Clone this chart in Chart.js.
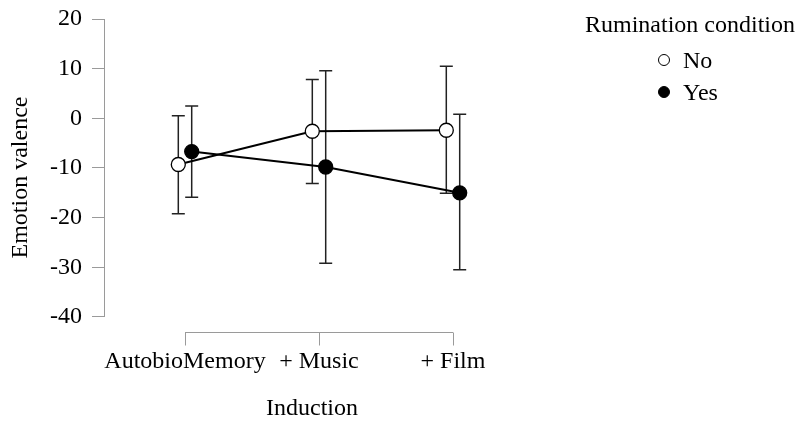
<!DOCTYPE html>
<html>
<head>
<meta charset="utf-8">
<script src="https://cdn.jsdelivr.net/npm/chart.js@4.4.1/dist/chart.umd.min.js"></script>
<style>
html, body { margin: 0; padding: 0; background: #fff; }
#wrap { width: 801px; height: 421px; position: relative; }
</style>
</head>
<body>
<div id="wrap"><canvas id="c"></canvas></div>
<script>
// ---- data ----
const categories = ['AutobioMemory', '+ Music', '+ Film'];
const seriesNames = ['No', 'Yes'];
const noMean  = [-9.3, -2.6, -2.4];
const noLower = [-19.2, -13.1, -15.1];
const noUpper = [0.5, 7.8, 10.5];
const yesMean  = [-6.7, -9.8, -15.0];
const yesLower = [-15.9, -29.2, -30.5];
const yesUpper = [2.5, 9.6, 0.8];
const yTicks = [20, 10, 0, -10, -20, -30, -40];
const legendTitle = 'Rumination condition';
const xTitle = 'Induction';
const yTitle = 'Emotion valence';

// ---- style ----
const FONT = "'Liberation Serif', 'Times New Roman', serif";
const AXIS = '#9a9a9a';
const dodge = 0.05;

Chart.defaults.font.family = FONT;
Chart.defaults.font.size = 24;
Chart.defaults.color = '#000';

const series = [
  { name: seriesNames[0], mean: noMean, lower: noLower, upper: noUpper, fill: '#ffffff', off: -dodge },
  { name: seriesNames[1], mean: yesMean, lower: yesLower, upper: yesUpper, fill: '#000000', off: dodge }
];

const datasets = series.map(s => ({
  label: s.name,
  data: s.mean.map((v, i) => ({ x: i + s.off, y: v })),
  borderColor: '#000',
  borderWidth: 2,
  pointRadius: 7,
  pointHoverRadius: 7,
  pointBackgroundColor: s.fill,
  pointBorderColor: '#000',
  pointBorderWidth: 1.3,
  tension: 0,
  fill: false
}));

const decor = {
  id: 'decor',
  beforeDatasetsDraw(chart) {
    const { ctx, chartArea, scales: { x, y } } = chart;
    ctx.save();
    // y axis line (only over tick range)
    ctx.strokeStyle = AXIS;
    ctx.lineWidth = 1;
    const ax = Math.round(chartArea.left) + 0.5;
    ctx.beginPath();
    ctx.moveTo(ax, y.getPixelForValue(Math.max(...yTicks)));
    ctx.lineTo(ax, y.getPixelForValue(Math.min(...yTicks)));
    ctx.stroke();
    // x axis line (only between first and last category)
    const xa = Math.round(chartArea.bottom - 4) + 0.5;
    const x0 = x.getPixelForValue(0), x1 = x.getPixelForValue(categories.length - 1);
    ctx.beginPath();
    ctx.moveTo(x0, xa);
    ctx.lineTo(x1, xa);
    for (let i = 0; i < categories.length; i++) {
      const px = Math.round(x.getPixelForValue(i)) + 0.5;
      ctx.moveTo(px, xa);
      ctx.lineTo(px, xa + 13);
    }
    ctx.stroke();
    // error bars
    ctx.strokeStyle = '#222';
    ctx.lineWidth = 1.5;
    series.forEach(s => {
      s.mean.forEach((v, i) => {
        const px = x.getPixelForValue(i + s.off);
        const yl = y.getPixelForValue(s.lower[i]);
        const yu = y.getPixelForValue(s.upper[i]);
        const w = 6.5;
        ctx.beginPath();
        ctx.moveTo(px, yl); ctx.lineTo(px, yu);
        ctx.moveTo(px - w, yl); ctx.lineTo(px + w, yl);
        ctx.moveTo(px - w, yu); ctx.lineTo(px + w, yu);
        ctx.stroke();
      });
    });
    ctx.restore();
  },
  afterDraw(chart) {
    const { ctx } = chart;
    ctx.save();
    ctx.fillStyle = '#000';
    ctx.font = '24px ' + FONT;
    ctx.textBaseline = 'alphabetic';
    ctx.textAlign = 'center';
    ctx.fillText(legendTitle, 690, 32);
    ctx.textAlign = 'left';
    const rows = [60, 92];
    series.forEach((s, k) => {
      const cy = rows[k];
      ctx.beginPath();
      ctx.arc(664, cy, 5.5, 0, Math.PI * 2);
      ctx.fillStyle = s.fill;
      ctx.fill();
      ctx.strokeStyle = '#000';
      ctx.lineWidth = 1;
      ctx.stroke();
      ctx.fillStyle = '#000';
      ctx.fillText(s.name, 683, cy + 7.5);
    });
    ctx.restore();
  }
};

new Chart(document.getElementById('c'), {
  type: 'line',
  data: { datasets },
  options: {
    responsive: true,
    maintainAspectRatio: false,
    animation: false,
    devicePixelRatio: 1,
    layout: { padding: { left: 0, top: 19, right: 281, bottom: 0 } },
    plugins: { legend: { display: false }, tooltip: { enabled: false } },
    scales: {
      x: {
        type: 'linear',
        min: -0.6045,
        max: 2.5,
        afterBuildTicks: s => { s.ticks = categories.map((c, i) => ({ value: i })); },
        afterFit: s => { s.height = 85; s.paddingLeft = 0; s.paddingRight = 0; },
        grid: { display: false, drawTicks: false },
        border: { display: false },
        ticks: {
          autoSkip: false,
          maxRotation: 0,
          padding: 11,
          font: { size: 24, lineHeight: 1.2 },
          callback: v => categories[v] ?? ''
        },
        title: { display: true, text: xTitle, font: { size: 24, lineHeight: 1 }, padding: { top: 0, bottom: 0 } }
      },
      y: {
        type: 'linear',
        min: -43.826,
        max: 20,
        afterBuildTicks: s => { s.ticks = [...yTicks].sort((a, b) => a - b).map(v => ({ value: v })); },
        afterFit: s => { s.width = 104; s.paddingTop = 0; s.paddingBottom = 0; },
        grid: { display: true, drawOnChartArea: false, drawTicks: true, tickLength: 12, color: AXIS, lineWidth: 1 },
        border: { display: false },
        ticks: { padding: 10, font: { size: 24 }, callback: v => String(v) },
        title: { display: true, text: yTitle, font: { size: 24, lineHeight: 1 }, padding: { top: 9, bottom: 0 } }
      }
    }
  },
  plugins: [decor]
});
</script>
</body>
</html>
